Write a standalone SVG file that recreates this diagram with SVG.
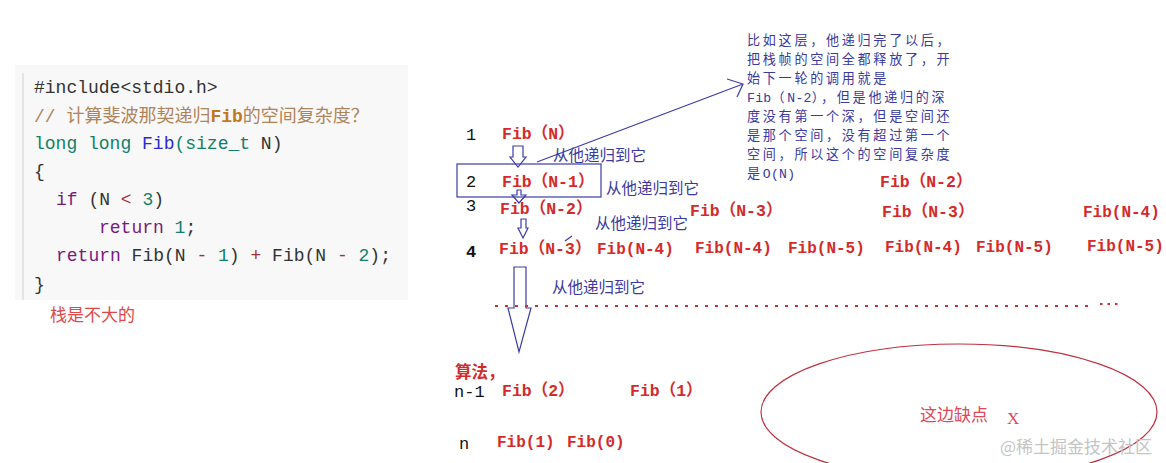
<svg xmlns="http://www.w3.org/2000/svg" width="1166" height="463" viewBox="0 0 1166 463">
<style>
.code{font-family:"Liberation Mono","Noto Sans CJK SC",monospace;font-size:18px;fill:#333}
.cm{fill:#b0845a}.cmb{fill:#c07a1e;font-weight:bold}
.kw{fill:#11806a}.fn{fill:#2a2ad0}.pu{fill:#7a1a80}.op{fill:#a83030}.nu{fill:#11806a}
.fib{font-family:"Liberation Mono","Noto Sans CJK SC",monospace;font-weight:bold;font-size:16.5px;fill:#d42a2a}
.fibh{font-family:"Liberation Mono","Noto Sans CJK SC",monospace;font-weight:bold;font-size:16px;fill:#d42a2a}
.lvl{font-family:"Liberation Mono","Noto Sans CJK SC",monospace;font-size:17px;fill:#111}
.note{font-family:"Noto Sans CJK SC",sans-serif;font-size:15.5px;fill:#3a3aa0}
.top{font-family:"Noto Sans CJK SC",sans-serif;font-size:13.1px;letter-spacing:2.7px;fill:#3a3aa0}
.lat{font-family:"Liberation Mono",monospace;font-size:13.1px;letter-spacing:0.3px}
.blue{fill:none;stroke:#3c3ca8;stroke-width:1.2}
</style>
<rect width="1166" height="463" fill="#fff"/>
<g id="code">
<rect x="15" y="65" width="393" height="235" fill="#f8f8f8"/>
<line x1="23" y1="73" x2="23" y2="300" stroke="#e4e4e4" stroke-width="2"/>
<text class="code" x="34" y="93" xml:space="preserve">#include&lt;stdio.h&gt;</text>
<text class="code" x="34" y="122" xml:space="preserve"><tspan class="cm">// 计算斐波那契递归</tspan><tspan class="cmb">Fib</tspan><tspan class="cm">的空间复杂度？</tspan></text>
<text class="code" x="34" y="149" xml:space="preserve"><tspan class="kw">long long </tspan><tspan class="fn">Fib</tspan><tspan class="kw">(size_t</tspan> N)</text>
<text class="code" x="34" y="177">{</text>
<text class="code" x="56" y="205" xml:space="preserve"><tspan class="pu">if</tspan> (N <tspan class="op">&lt;</tspan><tspan class="nu"> 3</tspan>)</text>
<text class="code" x="99" y="233" xml:space="preserve"><tspan class="pu">return</tspan><tspan class="nu"> 1</tspan>;</text>
<text class="code" x="56" y="261" xml:space="preserve"><tspan class="pu">return</tspan> Fib(N <tspan class="op">-</tspan><tspan class="nu"> 1</tspan>) <tspan class="op">+</tspan> Fib(N <tspan class="op">-</tspan><tspan class="nu"> 2</tspan>);</text>
<text class="code" x="34" y="290">}</text>
</g>
<g id="stack-note"><text x="50" y="321" font-family="Noto Sans CJK SC,sans-serif" font-size="17" fill="#e04848">栈是不大的</text></g>

<g id="connectors">
<rect class="blue" x="457" y="164" width="144" height="33"/>
<path class="blue" d="M537,162 L743,84 M727,79 L743,84 L737,97"/>
<path class="blue" d="M513,146 H523 V157 H526 L518,167 L510,157 H513 Z"/>
<path class="blue" d="M517,190 H521 V195 H526 L519,203 L512,195 H517 Z"/>
<path class="blue" d="M521,219 H526 V228 H528 L523,238 L518,228 H521 Z"/>
<line class="blue" x1="572" y1="236" x2="565" y2="241"/>
<path class="blue" d="M514,267 H526 V308 H531 L519,352 L508,308 H514 Z"/>
<line x1="495" y1="306" x2="1095" y2="306" stroke="#d03030" stroke-width="2" stroke-dasharray="3 7"/>
<line x1="1100" y1="304" x2="1122" y2="304" stroke="#d03030" stroke-width="2" stroke-dasharray="2.5 5"/>
</g>

<g id="levels">
<text class="lvl" x="466" y="140">1</text>
<text class="lvl" x="466" y="187">2</text>
<text class="lvl" x="466" y="211">3</text>
<text class="lvl" x="466" y="257" font-weight="bold">4</text>
<text class="lvl" x="454" y="397">n-1</text>
<text class="lvl" x="459" y="449">n</text>
</g>

<g id="fib-nodes">
<text class="fib" x="502" y="139">Fib（N）</text>
<text class="fib" x="502" y="187">Fib（N-1）</text>
<text class="fib" x="500" y="214">Fib（N-2）</text>
<text class="fib" x="690" y="216">Fib（N-3）</text>
<text class="fib" x="880" y="187">Fib（N-2）</text>
<text class="fib" x="882" y="217">Fib（N-3）</text>
<text class="fibh" x="1083" y="217">Fib(N-4)</text>
<text class="fib" x="499" y="254">Fib（N-3）</text>
<text class="fibh" x="597" y="254">Fib(N-4)</text>
<text class="fibh" x="695" y="253">Fib(N-4)</text>
<text class="fibh" x="788" y="253">Fib(N-5)</text>
<text class="fibh" x="885" y="252">Fib(N-4)</text>
<text class="fibh" x="976" y="252">Fib(N-5)</text>
<text class="fibh" x="1087" y="251">Fib(N-5)</text>
<text class="fib" x="455" y="378" font-family="Noto Sans CJK SC,sans-serif">算法，</text>
<text class="fib" x="502" y="396">Fib（2）</text>
<text class="fib" x="630" y="396">Fib（1）</text>
<text class="fibh" x="497" y="447">Fib(1)</text>
<text class="fibh" x="567" y="447">Fib(0)</text>
</g>

<g id="recursion-notes">
<text class="note" x="553" y="161">从他递归到它</text>
<text class="note" x="606" y="194">从他递归到它</text>
<text class="note" x="595" y="229">从他递归到它</text>
<text class="note" x="552" y="293">从他递归到它</text>
</g>

<g id="top-note">
<text class="top" x="747" y="45">比如这层，他递归完了以后，</text>
<text class="top" x="747" y="64">把栈帧的空间全都释放了，开</text>
<text class="top" x="747" y="83">始下一轮的调用就是</text>
<text class="top" x="747" y="102"><tspan class="lat">Fib</tspan>（<tspan class="lat">N-2</tspan>），但是他递归的深</text>
<text class="top" x="747" y="121">度没有第一个深，但是空间还</text>
<text class="top" x="747" y="140">是那个空间，没有超过第一个</text>
<text class="top" x="747" y="159">空间，所以这个的空间复杂度</text>
<text class="top" x="747" y="178">是<tspan class="lat">O(N)</tspan></text>
</g>

<g id="drawback">
<ellipse cx="959" cy="412" rx="198" ry="68" fill="none" stroke="#c03040" stroke-width="1.2"/>
<text x="920" y="421" font-family="Noto Sans CJK SC,sans-serif" font-size="17" fill="#e04858">这边缺点</text>
<text x="1007" y="424" font-family="Liberation Serif,serif" font-size="17" fill="#e04858">X</text>
</g>
<g id="watermark"><text x="1000" y="453" font-family="Noto Sans CJK SC,sans-serif" font-size="17" fill="#c4c4c4">@稀土掘金技术社区</text></g>
</svg>
